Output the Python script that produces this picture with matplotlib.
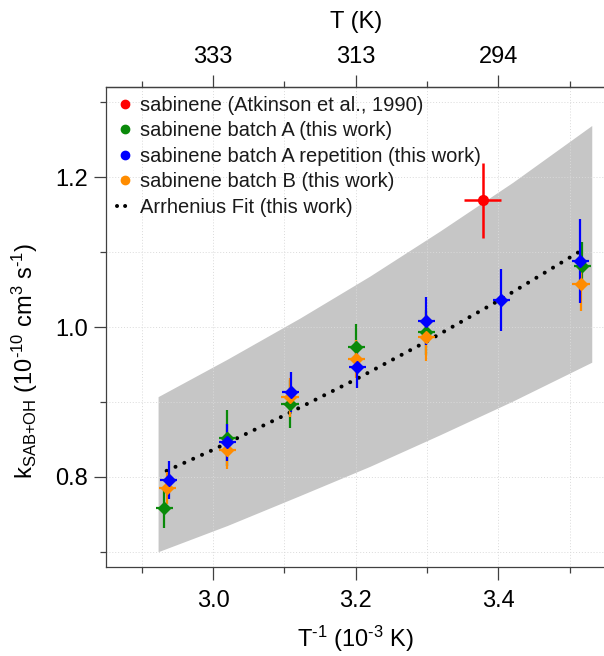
import matplotlib
matplotlib.use('Agg')
import matplotlib.pyplot as plt
from matplotlib.lines import Line2D

# values (x = 1000/T, y = k in 1e-10 cm3 s-1)
band_x = [2.923, 3.02, 3.122, 3.22, 3.318, 3.42, 3.531]
band_lo = [0.700, 0.735, 0.775, 0.814, 0.856, 0.901, 0.953]
band_hi = [0.907, 0.957, 1.012, 1.068, 1.128, 1.193, 1.269]

fit_x = [2.935, 3.0, 3.1, 3.2, 3.3, 3.4, 3.518]
fit_y = [0.808, 0.836, 0.882, 0.930, 0.981, 1.035, 1.103]

green_x = [2.932, 3.020, 3.108, 3.201, 3.299, 3.518]
green_y = [0.759, 0.852, 0.897, 0.973, 0.993, 1.081]
green_err = [0.027, 0.037, 0.032, 0.031, 0.030, 0.032]

orange_x = [2.936, 3.020, 3.108, 3.201, 3.299, 3.516]
orange_y = [0.785, 0.836, 0.906, 0.957, 0.987, 1.057]
orange_err = [0.021, 0.026, 0.026, 0.025, 0.033, 0.036]

blue_x = [2.938, 3.020, 3.109, 3.202, 3.299, 3.404, 3.515]
blue_y = [0.796, 0.846, 0.913, 0.947, 1.008, 1.036, 1.088]
blue_err = [0.025, 0.025, 0.027, 0.028, 0.032, 0.042, 0.056]

red_x = [3.378]
red_y = [1.169]
red_yerr = [0.050]
red_xerr = [0.026]

xticks = [3.0, 3.2, 3.4]
xminor = [2.9, 3.1, 3.3, 3.5]
yticks = [0.8, 1.0, 1.2]
yminor = [0.7, 0.9, 1.1, 1.3]
top_labels = ['333', '313', '294']

labels = ['sabinene (Atkinson et al., 1990)',
          'sabinene batch A (this work)',
          'sabinene batch A repetition (this work)',
          'sabinene batch B (this work)',
          'Arrhenius Fit (this work)']

plt.rcParams.update({'font.family': 'Liberation Sans', 'font.size': 17,
                     'mathtext.default': 'regular', 'text.color': '#1a1a1a'})

fig = plt.figure(figsize=(6.04, 6.56), dpi=100, facecolor='white')
ax = fig.add_axes([106 / 604, (656 - 566.7) / 656, 499.3 / 604, 479.4 / 656])

red = '#ff0000'
green = '#0a8a0a'
blue = '#0000ff'
orange = '#ff8c00'

ax.fill_between(band_x, band_lo, band_hi, color='#c6c6c6', lw=0, zorder=0.2)

dots = (0, (0.01, 2.4))
ax.plot(fit_x, fit_y, color='black', lw=2.9, linestyle=dots,
        dash_capstyle='round', zorder=2)

eb = dict(fmt='D', ms=6.5, elinewidth=1.6, capsize=0, zorder=3)
ax.errorbar(green_x, green_y, yerr=green_err, xerr=0.012, color=green, **eb)
ax.errorbar(orange_x, orange_y, yerr=orange_err, xerr=0.012, color=orange, **eb)
ax.errorbar(blue_x, blue_y, yerr=blue_err, xerr=0.012, color=blue, **eb)
ax.errorbar(red_x, red_y, yerr=red_yerr, xerr=red_xerr, color=red, fmt='o',
            ms=7, elinewidth=1.8, capsize=0, zorder=4)

ax.set_xlim(2.85, 3.55)
ax.set_ylim(0.68, 1.32)
ax.set_xticks(xticks)
ax.set_xticks(xminor, minor=True)
ax.set_yticks(yticks)
ax.set_yticks(yminor, minor=True)
ax.set_xticklabels(['%.1f' % v for v in xticks])
ax.set_yticklabels(['%.1f' % v for v in yticks])

ax.set_axisbelow(True)
ax.grid(True, which='both', color='#dadada', lw=0.7, linestyle=(0, (1, 2)))

for s in ['left', 'bottom', 'top']:
    ax.spines[s].set_color('#404040')
    ax.spines[s].set_linewidth(0.9)
ax.spines['right'].set_visible(False)
ax.tick_params(which='major', length=9, width=0.9, color='#404040')
ax.tick_params(which='minor', length=4.5, width=0.9, color='#404040')
ax.tick_params(axis='x', which='major', pad=8)
ax.tick_params(axis='y', which='major', pad=4)

hy = '\u2010'
ax.set_xlabel(r'T$^{' + hy + r'1}$ (10$^{' + hy + r'3}$ K)', va='center')
ax.xaxis.set_label_coords(0.5, -0.151)
ax.set_ylabel(r'k$_{SAB{+}OH}$ (10$^{' + hy + r'10}$ cm$^{3}$ s$^{' + hy + r'1}$)',
              va='center')
ax.yaxis.set_label_coords(-0.163, 0.43)

ax2 = ax.twiny()
ax2.set_xlim(ax.get_xlim())
ax2.set_xticks(xticks)
ax2.set_xticks(xminor, minor=True)
ax2.set_xticklabels(top_labels)
for s in ['left', 'bottom', 'right']:
    ax2.spines[s].set_visible(False)
ax2.spines['top'].set_color('#404040')
ax2.spines['top'].set_linewidth(0.9)
ax2.tick_params(which='major', length=9, width=0.9, color='#404040', pad=5)
ax2.tick_params(which='minor', length=4.5, width=0.9, color='#404040')
ax2.set_xlabel('T (K)', va='center')
ax2.xaxis.set_label_coords(0.5, 1.136)

handles = [Line2D([], [], marker='o', ls='none', color=red, ms=6),
           Line2D([], [], marker='o', ls='none', color=green, ms=6),
           Line2D([], [], marker='o', ls='none', color=blue, ms=6),
           Line2D([], [], marker='o', ls='none', color=orange, ms=6),
           Line2D([], [], color='black', lw=2.9, linestyle=(0, (0.01, 2.0)),
                  dash_capstyle='round')]
ax.legend(handles, labels, loc='upper left', bbox_to_anchor=(0.022, 0.982),
          frameon=False, borderaxespad=0, borderpad=0, handlelength=0.8,
          handletextpad=0.35, labelspacing=0.32, fontsize=14.5)

fig.savefig('out.png', dpi=100, facecolor='white')
